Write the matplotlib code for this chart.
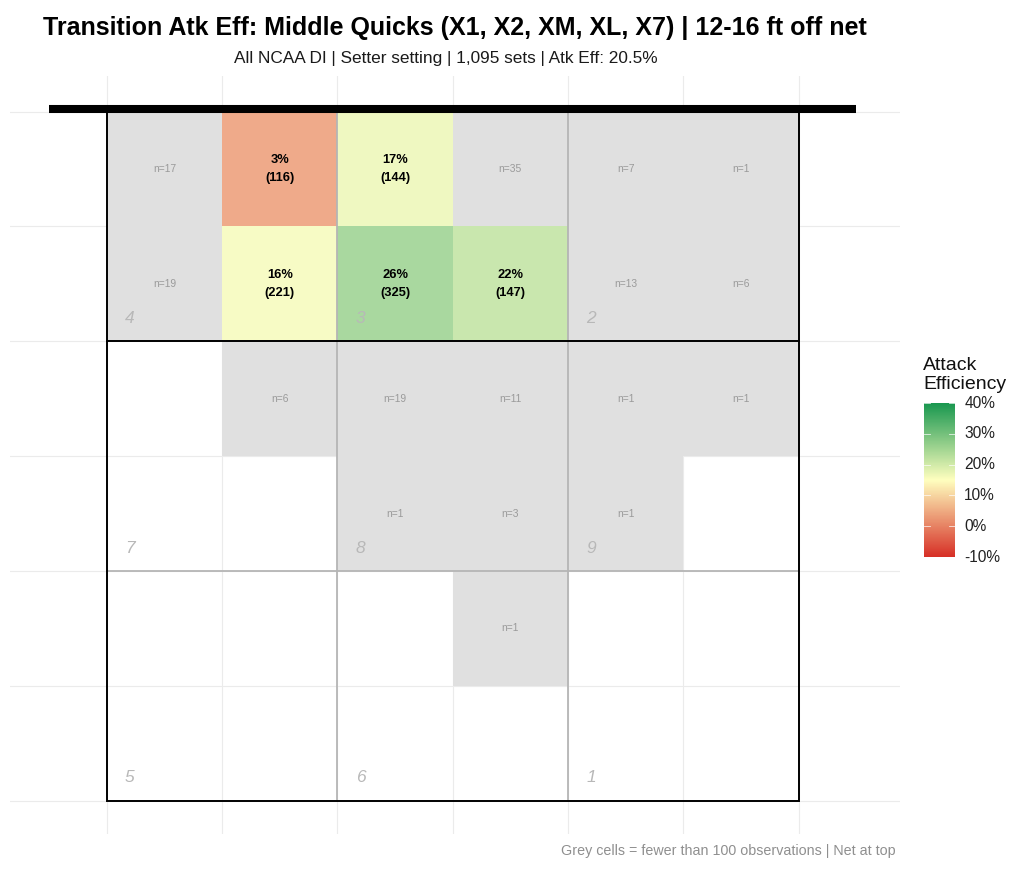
import numpy as np
import matplotlib
matplotlib.use("Agg")
import matplotlib.pyplot as plt
from matplotlib.colors import LinearSegmentedColormap, Normalize
from matplotlib.patches import Rectangle

plt.rcParams['font.family'] = ['Liberation Sans', 'DejaVu Sans']

# ---- data (rows from net downward, columns left to right) ----
counts = [
    [17, 116, 144, 35, 7, 1],
    [19, 221, 325, 147, 13, 6],
    [0, 6, 19, 11, 1, 1],
    [0, 0, 1, 3, 1, 0],
    [0, 0, 0, 1, 0, 0],
    [0, 0, 0, 0, 0, 0],
]
eff_pct = [
    [None, 3, 17, None, None, None],
    [None, 16, 26, 22, None, None],
    [None, None, None, None, None, None],
    [None, None, None, None, None, None],
    [None, None, None, None, None, None],
    [None, None, None, None, None, None],
]
zone_names = [["4", "3", "2"], ["7", "8", "9"], ["5", "6", "1"]]
min_obs = 100
title = "Transition Atk Eff: Middle Quicks (X1, X2, XM, XL, X7) | 12-16 ft off net"
subtitle = "All NCAA DI | Setter setting | 1,095 sets | Atk Eff: 20.5%"
caption = "Grey cells = fewer than 100 observations | Net at top"
cbar_ticks = [-10, 0, 10, 20, 30, 40]

cmap = LinearSegmentedColormap.from_list(
    "eff", [(0.0, "#d73027"), (0.5, "#ffffbf"), (1.0, "#1a9850")])
norm = Normalize(vmin=-10, vmax=40)
alpha = 0.85

fig = plt.figure(figsize=(10.24, 8.75), dpi=100)
W, H = 1024, 875
ax = fig.add_axes([10 / W, (H - 834) / H, 890 / W, 758 / H])
ax.set_xlim(-0.84, 6.88)
ax.set_ylim(6.29, -0.31)
ax.axis("off")

# grid
for v in range(7):
    ax.plot([v, v], [-0.31, 6.29], color="#ebebeb", lw=0.8, zorder=0)
    ax.plot([-0.84, 6.88], [v, v], color="#ebebeb", lw=0.8, zorder=0)

nrows, ncols = len(counts), len(counts[0])
for r in range(nrows):
    for c in range(ncols):
        n = counts[r][c]
        e = eff_pct[r][c]
        if n <= 0:
            continue
        if n >= min_obs and e is not None:
            base = np.array(cmap(norm(e))[:3])
            col = alpha * base + (1 - alpha) * np.ones(3)
            ax.add_patch(Rectangle((c, r), 1, 1, facecolor=col, edgecolor="none", zorder=1))
            ax.text(c + 0.5, r + 0.5, f"{e}%\n({n})", ha="center", va="center",
                    fontsize=9.3, fontweight="bold", color="black", linespacing=1.6, zorder=5)
        else:
            ax.add_patch(Rectangle((c, r), 1, 1, facecolor="#e0e0e0", edgecolor="none", zorder=1))
            ax.text(c + 0.5, r + 0.5, f"n={n}", ha="center", va="center",
                    fontsize=7.4, color="#9a9a9a", zorder=5)

# zone lines
zc = "#b5b5b5"
for v in [2, 4]:
    ax.plot([v, v], [0, 6], color=zc, lw=1.3, zorder=3)
    ax.plot([0, 6], [v, v], color=zc, lw=1.3, zorder=3)
ax.plot([0, 6], [2, 2], color="black", lw=1.4, zorder=4)
ax.add_patch(Rectangle((0, 0), 6, 6, facecolor="none", edgecolor="black", lw=1.4, zorder=4))
ax.plot([-0.5, 6.5], [-0.02, -0.02], color="black", lw=5.8, solid_capstyle="butt", zorder=6)

for zr, rowz in enumerate(zone_names):
    for zcn, name in enumerate(rowz):
        ax.text(zcn * 2 + 0.2, zr * 2 + 1.8, name, ha="center", va="center",
                fontsize=12.5, style="italic", color="#b8b8b8", zorder=5)

# titles
fig.text(455 / W, 1 - 28 / H, title, ha="center", va="center", fontsize=18, fontweight="bold")
fig.text(446 / W, 1 - 58 / H, subtitle, ha="center", va="center", fontsize=12.4, color="#1a1a1a")
fig.text(896 / W, 1 - 851 / H, caption, ha="right", va="center", fontsize=10.3, color="#8f8f8f")

# colorbar
cax = fig.add_axes([924 / W, (H - 557) / H, 31 / W, 154 / H])
grad = np.linspace(-10, 40, 300).reshape(-1, 1)
cax.imshow(grad, cmap=cmap, norm=norm, aspect="auto", origin="lower",
           extent=[0, 1, -10, 40])
cax.set_xlim(0, 1)
cax.set_ylim(-10, 40)
for t in cbar_ticks:
    cax.plot([0, 0.2], [t, t], color="white", lw=0.6, alpha=0.8)
    cax.plot([0.8, 1], [t, t], color="white", lw=0.6, alpha=0.8)
    cax.text(1.3, t, f"{t}%", ha="left", va="center", fontsize=11.2, color="#222222",
             transform=cax.transData, clip_on=False)
cax.axis("off")
fig.text(923 / W, 1 - 375 / H, "Attack\nEfficiency", ha="left", va="center",
         fontsize=14, color="#111111", linespacing=1.15)

fig.savefig("out.png", dpi=100)
